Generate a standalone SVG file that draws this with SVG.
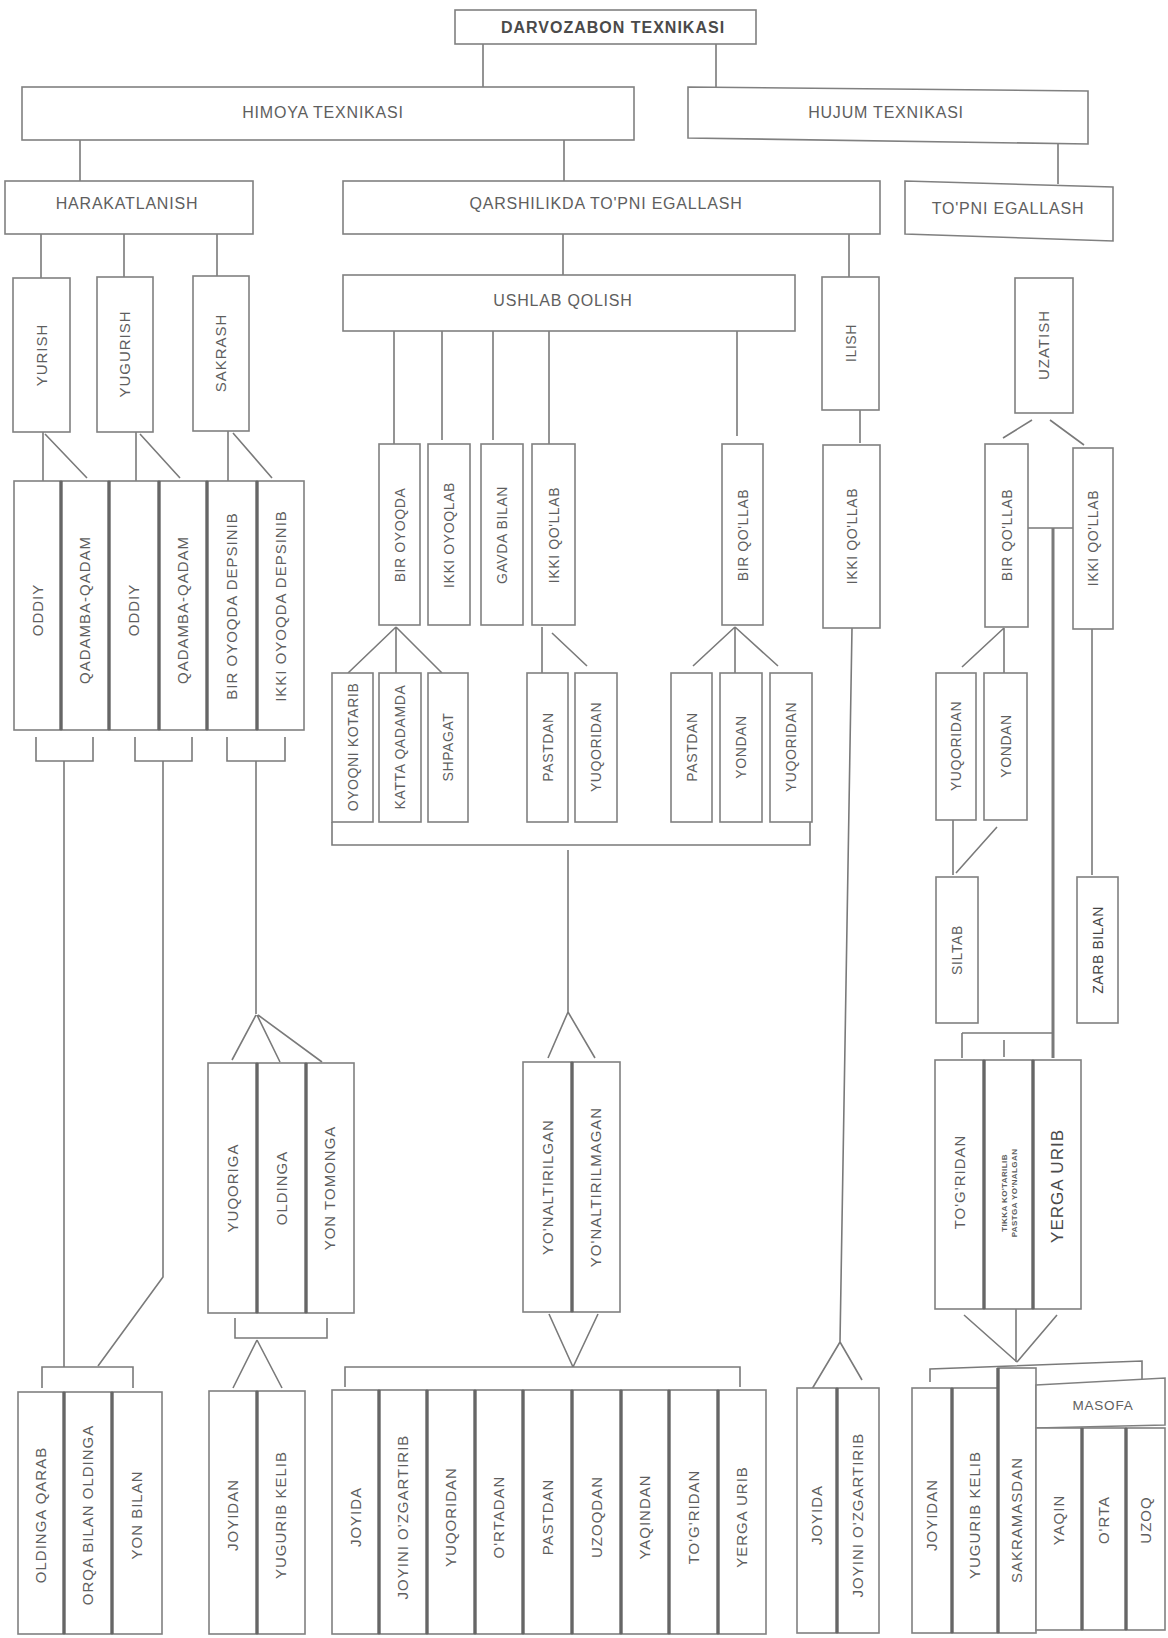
<svg xmlns="http://www.w3.org/2000/svg" width="1168" height="1638" viewBox="0 0 1168 1638">
<style>
.b{fill:#fff;stroke:#808080;stroke-width:1.6}
.s{stroke:#666;stroke-width:3.4}
.c{stroke:#7a7a7a;stroke-width:1.6;fill:none}
.t{font-family:"Liberation Sans",Arial,sans-serif;font-size:16px;fill:#5e5e5e;letter-spacing:0.8px;text-anchor:middle}
.v{font-family:"Liberation Sans",Arial,sans-serif;font-size:15px;fill:#5e5e5e;letter-spacing:1px;text-anchor:middle}
.vs{font-size:14px;letter-spacing:0.6px}
</style>
<rect width="1168" height="1638" fill="#fff"/>

<g id="connectors" class="c">
<path d="M483,44V87M716,44V88M80,140V181M564,140V181M1058,142V184"/>
<path d="M41,234V278M124,234V277M217,234V276M563,234V275M849,234V277"/>
<path d="M43,432V481M45,434L87,478M136,432V481M140,434L180,478M228,431V481M233,433L272,478"/>
<path d="M36,737V761H93V737M64,761V1367"/>
<path d="M135,737V761H192V737M163,761V1277L98,1366"/>
<path d="M227,737V761H285V737M256,761V1014M256,1015L232,1060M257,1015L280,1062M258,1015L322,1062"/>
<path d="M235,1318V1338H327V1318M257,1340L233,1388M257,1340L282,1388"/>
<path d="M42,1388V1367H133V1388"/>
<path d="M394,331V444M442,331V440M493,331V440M549,331V444M737,331V436"/>
<path d="M396,627L348,673M396,627V673M396,627L442,673"/>
<path d="M542,627V673M552,633L587,666"/>
<path d="M735,627L693,666M735,627V673M735,627L778,666"/>
<path d="M332,822V845H810V822M568,850V1012M568,1012L548,1058M568,1012L595,1058"/>
<path d="M549,1314L573,1367M598,1314L573,1367M345,1387V1367H740V1387"/>
<path d="M860,410V443M852,628L840,1342M840,1342L812,1389M840,1342L862,1380"/>
<path d="M1032,420L1003,438M1050,420L1084,445M1028,528H1073"/>
<path d="M1053,528V1058" stroke-width="3"/>
<path d="M1004,628L962,667M1004,628V673M953,820V875M997,827L956,873M1092,629V875"/>
<path d="M962,1033H1053M962,1033V1058M1004,1040V1057"/>
<path d="M964,1315L1017,1362M1016,1309V1362M1057,1315L1017,1362M930,1382V1369L1142,1361V1380"/>
</g>

<g id="n-darvozabon"><rect class="b" x="455" y="10" width="301" height="34"/><text class="t" x="613" y="33" style="font-weight:bold;letter-spacing:1px;fill:#4a4a4a">DARVOZABON TEXNIKASI</text></g>
<g id="n-himoya"><rect class="b" x="22" y="87" width="612" height="53"/><text class="t" x="323" y="118">HIMOYA TEXNIKASI</text></g>
<g id="n-hujum"><polygon class="b" points="688,87 1088,91 1088,144 688,138"/><text class="t" x="886" y="118">HUJUM TEXNIKASI</text></g>
<g id="n-harakat"><rect class="b" x="5" y="181" width="248" height="53"/><text class="t" x="127" y="209">HARAKATLANISH</text></g>
<g id="n-qarsh"><rect class="b" x="343" y="181" width="537" height="53"/><text class="t" x="606" y="209">QARSHILIKDA TO'PNI EGALLASH</text></g>
<g id="n-topni"><polygon class="b" points="905,181 1113,187 1113,241 905,234"/><text class="t" x="1008" y="214">TO'PNI EGALLASH</text></g>
<g id="n-ushlab"><rect class="b" x="343" y="275" width="452" height="56"/><text class="t" x="563" y="306">USHLAB QOLISH</text></g>

<g id="n-yurish"><rect class="b" x="13" y="278" width="57" height="154"/><text class="v" transform="translate(41.5 355) rotate(-90)" dy="5">YURISH</text></g>
<g id="n-yugurish"><rect class="b" x="97" y="277" width="56" height="155"/><text class="v" transform="translate(125 354) rotate(-90)" dy="5">YUGURISH</text></g>
<g id="n-sakrash"><rect class="b" x="193" y="276" width="56" height="155"/><text class="v" transform="translate(221 353) rotate(-90)" dy="5">SAKRASH</text></g>
<g id="n-ilish"><rect class="b" x="822" y="277" width="57" height="133"/><text class="v vs" transform="translate(850.5 343) rotate(-90)" dy="5">ILISH</text></g>
<g id="n-uzatish"><rect class="b" x="1015" y="278" width="58" height="135"/><text class="v" transform="translate(1044 345) rotate(-90)" dy="5">UZATISH</text></g>

<g id="n-oddiy1"><rect class="b" x="14" y="481" width="47" height="249"/><text class="v" transform="translate(37.5 610) rotate(-90)" dy="5">ODDIY</text></g>
<g id="n-qadam1"><rect class="b" x="61" y="481" width="48" height="249"/><line class="s" x1="61" y1="481" x2="61" y2="730"/><text class="v" transform="translate(85 610) rotate(-90)" dy="5">QADAMBA-QADAM</text></g>
<g id="n-oddiy2"><rect class="b" x="109" y="481" width="50" height="249"/><line class="s" x1="109" y1="481" x2="109" y2="730"/><text class="v" transform="translate(134 610) rotate(-90)" dy="5">ODDIY</text></g>
<g id="n-qadam2"><rect class="b" x="159" y="481" width="48" height="249"/><line class="s" x1="159" y1="481" x2="159" y2="730"/><text class="v" transform="translate(183 610) rotate(-90)" dy="5">QADAMBA-QADAM</text></g>
<g id="n-bir-dep"><rect class="b" x="207" y="481" width="50" height="249"/><line class="s" x1="207" y1="481" x2="207" y2="730"/><text class="v" transform="translate(232 606) rotate(-90)" dy="5">BIR OYOQDA DEPSINIB</text></g>
<g id="n-ikki-dep"><rect class="b" x="257" y="481" width="47" height="249"/><line class="s" x1="257" y1="481" x2="257" y2="730"/><text class="v" transform="translate(280.5 606) rotate(-90)" dy="5">IKKI OYOQDA DEPSINIB</text></g>

<g id="n-bir-oyoqda"><rect class="b" x="379" y="444" width="41" height="181"/><text class="v vs" transform="translate(399.5 535) rotate(-90)" dy="5">BIR OYOQDA</text></g>
<g id="n-ikki-oyoqlab"><rect class="b" x="428" y="444" width="42" height="181"/><text class="v vs" transform="translate(449 535) rotate(-90)" dy="5">IKKI OYOQLAB</text></g>
<g id="n-gavda"><rect class="b" x="481" y="444" width="42" height="181"/><text class="v vs" transform="translate(502 535) rotate(-90)" dy="5">GAVDA BILAN</text></g>
<g id="n-ikki-qollab1"><rect class="b" x="532" y="444" width="43" height="181"/><text class="v vs" transform="translate(553.5 535) rotate(-90)" dy="5">IKKI QO'LLAB</text></g>
<g id="n-bir-qollab1"><rect class="b" x="722" y="444" width="41" height="181"/><text class="v vs" transform="translate(742.5 535) rotate(-90)" dy="5">BIR QO'LLAB</text></g>

<g id="n-oyoqni"><rect class="b" x="332" y="673" width="41" height="149"/><text class="v vs" transform="translate(352.5 747) rotate(-90)" dy="5">OYOQNI KOTARIB</text></g>
<g id="n-katta"><rect class="b" x="379" y="673" width="42" height="149"/><text class="v vs" transform="translate(400 747) rotate(-90)" dy="5">KATTA QADAMDA</text></g>
<g id="n-shpagat"><rect class="b" x="428" y="673" width="40" height="149"/><text class="v vs" transform="translate(448 747) rotate(-90)" dy="5">SHPAGAT</text></g>
<g id="n-pastdan1"><rect class="b" x="527" y="673" width="41" height="149"/><text class="v vs" transform="translate(547.5 747) rotate(-90)" dy="5">PASTDAN</text></g>
<g id="n-yuqoridan1"><rect class="b" x="575" y="673" width="42" height="149"/><text class="v vs" transform="translate(596 747) rotate(-90)" dy="5">YUQORIDAN</text></g>
<g id="n-pastdan2"><rect class="b" x="671" y="673" width="41" height="149"/><text class="v vs" transform="translate(691.5 747) rotate(-90)" dy="5">PASTDAN</text></g>
<g id="n-yondan1"><rect class="b" x="720" y="673" width="42" height="149"/><text class="v vs" transform="translate(741 747) rotate(-90)" dy="5">YONDAN</text></g>
<g id="n-yuqoridan2"><rect class="b" x="770" y="673" width="42" height="149"/><text class="v vs" transform="translate(791 747) rotate(-90)" dy="5">YUQORIDAN</text></g>

<g id="n-ikki-qollab2"><rect class="b" x="823" y="445" width="57" height="183"/><text class="v vs" transform="translate(851.5 536) rotate(-90)" dy="5">IKKI QO'LLAB</text></g>
<g id="n-bir-qollab2"><rect class="b" x="985" y="444" width="43" height="183"/><text class="v vs" transform="translate(1006.5 535) rotate(-90)" dy="5">BIR QO'LLAB</text></g>
<g id="n-ikki-qollab3"><rect class="b" x="1073" y="448" width="40" height="181"/><text class="v vs" transform="translate(1093 538) rotate(-90)" dy="5">IKKI QO'LLAB</text></g>
<g id="n-yuqoridan3"><rect class="b" x="936" y="673" width="40" height="147"/><text class="v vs" transform="translate(956 746) rotate(-90)" dy="5">YUQORIDAN</text></g>
<g id="n-yondan2"><rect class="b" x="984" y="673" width="43" height="147"/><text class="v vs" transform="translate(1005.5 746) rotate(-90)" dy="5">YONDAN</text></g>
<g id="n-siltab"><rect class="b" x="936" y="877" width="42" height="146"/><text class="v vs" transform="translate(957 950) rotate(-90)" dy="5">SILTAB</text></g>
<g id="n-zarb"><rect class="b" x="1077" y="877" width="41" height="146"/><text class="v vs" transform="translate(1097.5 950) rotate(-90)" dy="5" style="fill:#444">ZARB BILAN</text></g>

<g id="n-yuqoriga"><rect class="b" x="208" y="1063" width="49" height="250"/><text class="v" transform="translate(232.5 1188) rotate(-90)" dy="5">YUQORIGA</text></g>
<g id="n-oldinga"><rect class="b" x="257" y="1063" width="49" height="250"/><line class="s" x1="257" y1="1063" x2="257" y2="1313"/><text class="v" transform="translate(281.5 1188) rotate(-90)" dy="5">OLDINGA</text></g>
<g id="n-yon-tomonga"><rect class="b" x="306" y="1063" width="48" height="250"/><line class="s" x1="306" y1="1063" x2="306" y2="1313"/><text class="v" transform="translate(330 1188) rotate(-90)" dy="5">YON TOMONGA</text></g>

<g id="n-yonaltirilgan"><rect class="b" x="523" y="1062" width="49" height="250"/><text class="v" transform="translate(547.5 1187) rotate(-90)" dy="5">YO'NALTIRILGAN</text></g>
<g id="n-yonaltirilmagan"><rect class="b" x="572" y="1062" width="48" height="250"/><line class="s" x1="572" y1="1062" x2="572" y2="1312"/><text class="v" transform="translate(596 1187) rotate(-90)" dy="5">YO'NALTIRILMAGAN</text></g>

<g id="n-togridan1"><rect class="b" x="935" y="1060" width="49" height="249"/><text class="v" transform="translate(959.5 1182) rotate(-90)" dy="5">TO'G'RIDAN</text></g>
<g id="n-tikka"><rect class="b" x="984" y="1060" width="49" height="249"/><line class="s" x1="984" y1="1060" x2="984" y2="1309"/><text class="v" transform="translate(1008.5 1193) rotate(-90)" style="font-size:8px;font-weight:bold;letter-spacing:0.4px"><tspan x="0" dy="-2">TIKKA KO'TARILIB</tspan><tspan x="0" dy="10">PASTGA YO'NALGAN</tspan></text></g>
<g id="n-yerga1"><rect class="b" x="1033" y="1060" width="48" height="249"/><line class="s" x1="1033" y1="1060" x2="1033" y2="1309"/><text class="v" transform="translate(1057 1186) rotate(-90)" dy="6" style="font-size:17px;fill:#4a4a4a">YERGA URIB</text></g>

<g id="n-oldinga-qarab"><rect class="b" x="18" y="1392" width="46" height="242"/><text class="v" transform="translate(41 1515) rotate(-90)" dy="5">OLDINGA QARAB</text></g>
<g id="n-orqa"><rect class="b" x="64" y="1392" width="48" height="242"/><line class="s" x1="64" y1="1392" x2="64" y2="1634"/><text class="v" transform="translate(88 1515) rotate(-90)" dy="5">ORQA BILAN OLDINGA</text></g>
<g id="n-yon-bilan"><rect class="b" x="112" y="1392" width="50" height="242"/><line class="s" x1="112" y1="1392" x2="112" y2="1634"/><text class="v" transform="translate(137 1515) rotate(-90)" dy="5">YON BILAN</text></g>

<g id="n-joyidan1"><rect class="b" x="209" y="1391" width="48" height="243"/><text class="v" transform="translate(233 1515) rotate(-90)" dy="5">JOYIDAN</text></g>
<g id="n-yugurib1"><rect class="b" x="257" y="1391" width="48" height="243"/><line class="s" x1="257" y1="1391" x2="257" y2="1634"/><text class="v" transform="translate(281 1515) rotate(-90)" dy="5">YUGURIB KELIB</text></g>

<g id="n-joyida1"><rect class="b" x="332" y="1390" width="47" height="244"/><text class="v" transform="translate(355.5 1517) rotate(-90)" dy="5">JOYIDA</text></g>
<g id="n-joyini1"><rect class="b" x="379" y="1390" width="48" height="244"/><line class="s" x1="379" y1="1390" x2="379" y2="1634"/><text class="v" transform="translate(403 1517) rotate(-90)" dy="5">JOYINI O'ZGARTIRIB</text></g>
<g id="n-yuqoridan4"><rect class="b" x="427" y="1390" width="48" height="244"/><line class="s" x1="427" y1="1390" x2="427" y2="1634"/><text class="v" transform="translate(451 1517) rotate(-90)" dy="5">YUQORIDAN</text></g>
<g id="n-ortadan"><rect class="b" x="475" y="1390" width="48" height="244"/><line class="s" x1="475" y1="1390" x2="475" y2="1634"/><text class="v" transform="translate(499 1517) rotate(-90)" dy="5">O'RTADAN</text></g>
<g id="n-pastdan3"><rect class="b" x="523" y="1390" width="49" height="244"/><line class="s" x1="523" y1="1390" x2="523" y2="1634"/><text class="v" transform="translate(547.5 1517) rotate(-90)" dy="5">PASTDAN</text></g>
<g id="n-uzoqdan"><rect class="b" x="572" y="1390" width="49" height="244"/><line class="s" x1="572" y1="1390" x2="572" y2="1634"/><text class="v" transform="translate(596.5 1517) rotate(-90)" dy="5">UZOQDAN</text></g>
<g id="n-yaqindan"><rect class="b" x="621" y="1390" width="48" height="244"/><line class="s" x1="621" y1="1390" x2="621" y2="1634"/><text class="v" transform="translate(645 1517) rotate(-90)" dy="5">YAQINDAN</text></g>
<g id="n-togridan2"><rect class="b" x="669" y="1390" width="49" height="244"/><line class="s" x1="669" y1="1390" x2="669" y2="1634"/><text class="v" transform="translate(693.5 1517) rotate(-90)" dy="5">TO'G'RIDAN</text></g>
<g id="n-yerga2"><rect class="b" x="718" y="1390" width="48" height="244"/><line class="s" x1="718" y1="1390" x2="718" y2="1634"/><text class="v" transform="translate(742 1517) rotate(-90)" dy="5">YERGA URIB</text></g>

<g id="n-joyida2"><rect class="b" x="797" y="1388" width="40" height="245"/><text class="v" transform="translate(817 1515) rotate(-90)" dy="5">JOYIDA</text></g>
<g id="n-joyini2"><rect class="b" x="837" y="1388" width="42" height="245"/><line class="s" x1="837" y1="1388" x2="837" y2="1633"/><text class="v" transform="translate(858 1515) rotate(-90)" dy="5">JOYINI O'ZGARTIRIB</text></g>

<g id="n-joyidan2"><rect class="b" x="912" y="1388" width="40" height="245"/><text class="v" transform="translate(932 1515) rotate(-90)" dy="5">JOYIDAN</text></g>
<g id="n-yugurib2"><rect class="b" x="952" y="1388" width="46" height="245"/><line class="s" x1="952" y1="1388" x2="952" y2="1633"/><text class="v" transform="translate(975 1515) rotate(-90)" dy="5">YUGURIB KELIB</text></g>
<g id="n-sakramasdan"><rect class="b" x="998" y="1368" width="38" height="265"/><line class="s" x1="998" y1="1368" x2="998" y2="1633"/><text class="v" transform="translate(1017 1520) rotate(-90)" dy="5">SAKRAMASDAN</text></g>
<g id="n-masofa"><polygon class="b" points="1036,1385 1165,1378 1165,1425 1036,1428"/><text class="t" x="1103" y="1410" style="font-size:13.5px">MASOFA</text></g>
<g id="n-yaqin"><rect class="b" x="1036" y="1428" width="46" height="202"/><text class="v" transform="translate(1059 1520) rotate(-90)" dy="5">YAQIN</text></g>
<g id="n-orta"><rect class="b" x="1082" y="1428" width="44" height="202"/><line class="s" x1="1082" y1="1428" x2="1082" y2="1630"/><text class="v" transform="translate(1104 1520) rotate(-90)" dy="5">O'RTA</text></g>
<g id="n-uzoq"><rect class="b" x="1126" y="1428" width="39" height="202"/><line class="s" x1="1126" y1="1428" x2="1126" y2="1630"/><text class="v" transform="translate(1145.5 1520) rotate(-90)" dy="5">UZOQ</text></g>
</svg>
